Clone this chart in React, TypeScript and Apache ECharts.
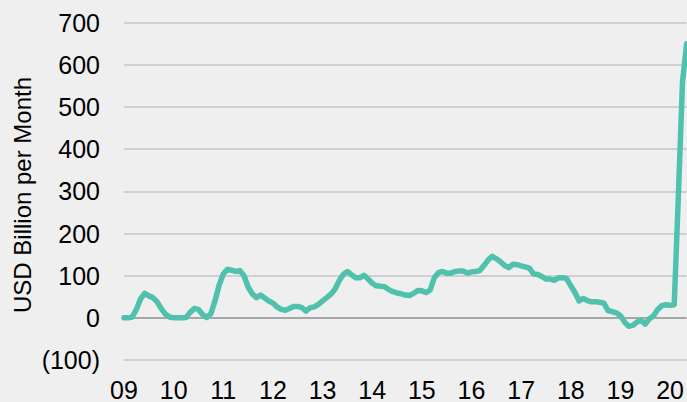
import React, { useEffect, useRef } from "react";
import * as echarts from "echarts";

// Monthly values, USD billion per month, starting January 2009
const startYear = 2009;
const monthlyValues: number[] = [
  // 2009
  0, 0, 2, 20, 45, 58, 52, 48, 38, 22, 9, 2,
  // 2010
  0, 0, 0, 1, 13, 22, 20, 8, 1, 10, 40, 78,
  // 2011
  104, 115, 113, 110, 112, 100, 73, 57, 48, 54, 47, 40,
  // 2012
  35, 26, 20, 18, 22, 27, 27, 24, 16, 24, 26, 32,
  // 2013
  40, 48, 56, 68, 88, 103, 110, 102, 95, 95, 101, 92,
  // 2014
  82, 76, 75, 74, 67, 62, 59, 57, 54, 53, 58, 65,
  // 2015
  64, 60, 66, 95, 107, 110, 106, 106, 110, 111, 111, 106,
  // 2016
  109, 110, 112, 124, 137, 146, 140, 133, 124, 119, 127, 126,
  // 2017
  123, 121, 118, 104, 103, 98, 92, 92, 89, 95, 95, 93,
  // 2018
  76, 60, 40, 46, 41, 38, 38, 37, 35, 17, 15, 12,
  // 2019
  5, -10, -20, -18, -10, -6, -15, -2, 5, 20, 29, 31,
  // 2020
  30, 31, 290, 560, 650,
];
const xTickLabels = ["09", "10", "11", "12", "13", "14", "15", "16", "17", "18", "19", "20"];
const yTicks = [-100, 0, 100, 200, 300, 400, 500, 600, 700];
const yTitle = "USD Billion per Month";

export default function App() {
  const ref = useRef<HTMLDivElement>(null);
  useEffect(() => {
    document.body.style.margin = "0";
    document.body.style.background = "#efefef";
    if (!ref.current) return;
    const chart = echarts.init(ref.current, null, { renderer: "svg" });
    const font = "'Liberation Sans', Arial, sans-serif";
    const gridColors = yTicks.map((t) => (t === 0 ? "#8e8e8e" : "#c6c6c6"));
    chart.setOption({
      animation: false,
      backgroundColor: "#efefef",
      grid: { left: 124, right: 0, top: 22.7, bottom: 41.7, containLabel: false },
      xAxis: {
        type: "value",
        min: 0,
        max: 136,
        interval: 12,
        axisLine: { show: false },
        axisTick: { show: false },
        splitLine: { show: false },
        axisLabel: {
          margin: 17,
          color: "#000",
          fontFamily: font,
          fontSize: 25,
          showMaxLabel: false,
          formatter: (v: number) => (v % 12 === 0 ? xTickLabels[v / 12] ?? "" : ""),
        },
      },
      yAxis: {
        type: "value",
        min: yTicks[0],
        max: yTicks[yTicks.length - 1],
        interval: 100,
        axisLine: { show: false },
        axisTick: { show: false },
        splitLine: { show: true, lineStyle: { color: gridColors, width: 1.5 } },
        axisLabel: {
          margin: 24,
          color: "#000",
          fontFamily: font,
          fontSize: 25,
          formatter: (v: number) => (v < 0 ? `(${-v})` : `${v}`),
        },
      },
      graphic: [
        {
          type: "text",
          x: 22,
          y: 195,
          rotation: Math.PI / 2,
          style: {
            text: yTitle,
            fill: "#000",
            font: `24px ${font}`,
            align: "center",
            verticalAlign: "middle",
          },
        },
      ],
      series: [
        {
          type: "line",
          data: monthlyValues.map((v, i) => [i, v]),
          showSymbol: false,
          symbol: "none",
          clip: true,
          lineStyle: { color: "#50c1ad", width: 5.5, cap: "round", join: "round" },
          z: 3,
        },
      ],
    });
    return () => chart.dispose();
  }, []);
  return <div ref={ref} style={{ width: 687, height: 402 }} />;
}
